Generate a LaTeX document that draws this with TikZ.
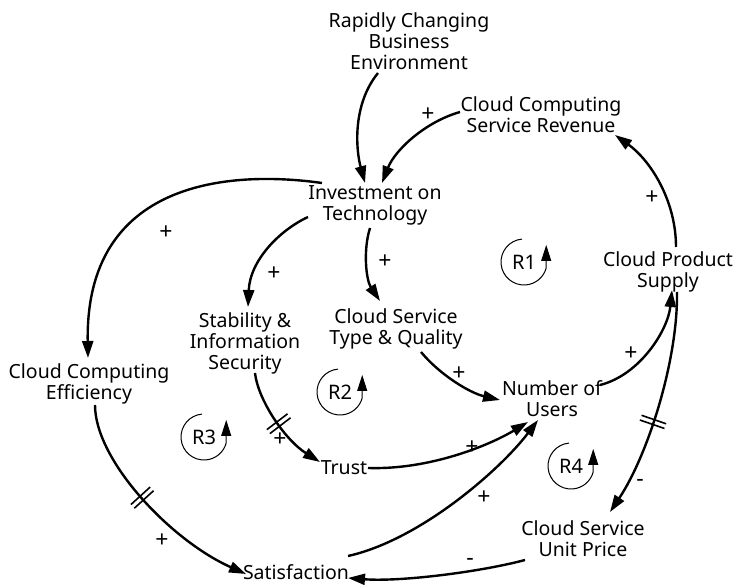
\documentclass[tikz,border=0pt]{standalone}
\usepackage{fontspec}
\setmainfont{Noto Sans}
\usetikzlibrary{arrows.meta,calc,decorations.markings}
\tikzset{
  var/.style={align=center, inner sep=1pt, font=\fontsize{19.5}{21}\selectfont},
  link/.style={line width=2.4pt, -{Triangle[length=17pt,width=11pt]}},
  sgn/.style={font=\fontsize{23}{23}\selectfont\bfseries, inner sep=0pt},
  delay/.style={postaction={decorate,decoration={markings,
      mark=at position #1 with {\draw[line width=1.6pt,-] (-2.5,-13)--(-2.5,13) (2.5,-13)--(2.5,13);}}}},
  loopc/.style={line width=1pt, -{Triangle[length=16pt,width=10pt]}},
  looplbl/.style={font=\fontsize{20}{20}\selectfont},
}
\begin{document}
\begin{tikzpicture}[x=1pt,y=-1pt]
\useasboundingbox (0,0) rectangle (742,585);
% variables
\node[var] (rce) at (409,41) {Rapidly Changing\\Business\\Environment};
\node[var] (rev) at (541,115) {Cloud Computing\\Service Revenue};
\node[var] (inv) at (375,205) {Investment on\\Technology};
\node[var] (sup) at (668,272) {Cloud Product\\Supply};
\node[var] (stab) at (245,343) {Stability \&\\Information\\Security};
\node[var] (tq) at (396,329) {Cloud Service\\Type \& Quality};
\node[var] (eff) at (89,384) {Cloud Computing\\Efficiency};
\node[var] (users) at (552,399) {Number of\\Users};
\node[var] (trust) at (344,468) {Trust};
\node[var] (price) at (583,539) {Cloud Service\\Unit Price};
\node[var] (sat) at (296,572) {Satisfaction};
% links
\draw[link] ($(rce)+(-31,32)$) .. controls (352,105) and (356,150) .. ($(inv)+(-10,-22)$);
\draw[link] ($(rev)+(-81,-3)$) .. controls (425,122) and (395,150) .. ($(inv)+(7,-22)$);
\draw[link] ($(sup)+(8,-25)$) .. controls (676,200) and (650,160) .. ($(rev)+(74,20)$);
\draw[link] ($(inv)+(-53,-22)$) .. controls (230,170) and (85,180) .. ($(eff)+(-1,-26)$);
\draw[link] ($(inv)+(-67,12)$) .. controls (280,230) and (250,260) .. ($(stab)+(3,-36)$);
\draw[link] ($(inv)+(-5,23)$) .. controls (363,250) and (366,280) .. ($(tq)+(-16,-28)$);
\draw[link] ($(tq)+(25,23)$) .. controls (440,375) and (470,393) .. ($(users)+(-52,1)$);
\draw[link] ($(users)+(48,-14)$) .. controls (640,375) and (668,330) .. ($(sup)+(4,18)$);
\draw[link,delay=0.5] ($(stab)+(10,30)$) .. controls (258,400) and (285,440) .. ($(trust)+(-24,-6)$);
\draw[link] ($(trust)+(24,0)$) .. controls (430,470) and (490,445) .. ($(users)+(-24,23)$);
\draw[link,delay=0.45] ($(eff)+(6,21)$) .. controls (95,460) and (170,540) .. ($(sat)+(-50,2)$);
\draw[link] ($(sat)+(52,-16)$) .. controls (420,540) and (500,470) .. ($(users)+(-14,21)$);
\draw[link,delay=0.57] ($(sup)+(9,20)$) .. controls (678,360) and (648,455) .. ($(price)+(27,-27)$);
\draw[link] ($(price)+(-58,21)$) .. controls (480,572) and (400,582) .. ($(sat)+(52,6)$);
% polarities
\node[sgn] (p1) at (428,115) {+};
\node[sgn] (p2) at (652,198) {+};
\node[sgn] (p3) at (166,233) {+};
\node[sgn] (p4) at (274,274) {+};
\node[sgn] (p5) at (385,262) {+};
\node[sgn] (p6) at (459,374) {+};
\node[sgn] (p7) at (631,354) {+};
\node[sgn] (p8) at (280,440) {+};
\node[sgn] (p9) at (472,448) {+};
\node[sgn] (p10) at (162,541) {+};
\node[sgn] (p11) at (484,498) {+};
\node[sgn] (m1) at (640,483) {-};
\node[sgn] (m2) at (470,562) {-};
% loops
\node[looplbl] (r1) at (524,262) {R1};
\node[looplbl] (r2) at (340,392) {R2};
\node[looplbl] (r3) at (204,437) {R3};
\node[looplbl] (r4) at (571,466) {R4};
\foreach \r in {r1,r2,r3,r4}{
  \draw[loopc] ([shift={(-95:23)}]\r.center) arc[start angle=-95, end angle=-345, radius=23] -- ++(0,-23);
}
\end{tikzpicture}
\end{document}
